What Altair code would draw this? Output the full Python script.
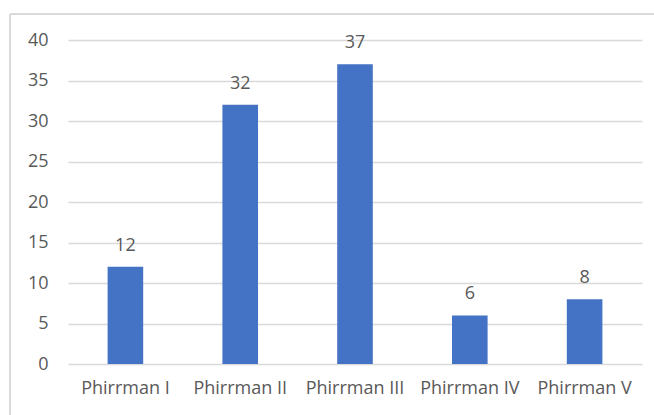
import altair as alt
import pandas as pd

categories = ["Phirrman I", "Phirrman II", "Phirrman III", "Phirrman IV", "Phirrman V"]
values = [12, 32, 37, 6, 8]
y_ticks = [0, 5, 10, 15, 20, 25, 30, 35, 40]

df = pd.DataFrame({"category": categories, "value": values})

FONT = "Open Sans"
GREY = "#595959"

x_enc = alt.X("category:N", sort=categories, title=None,
              scale=alt.Scale(paddingInner=0.69, paddingOuter=0.345),
              axis=alt.Axis(labelAngle=0, labelFont=FONT, labelFontSize=18,
                            labelColor=GREY, labelPadding=15, ticks=False,
                            domain=False, grid=False, zindex=1))
y_enc = alt.Y("value:Q", title=None,
              scale=alt.Scale(domain=[0, 40], nice=False),
              axis=alt.Axis(values=y_ticks, labelFont=FONT, labelFontSize=18,
                            labelColor=GREY, labelPadding=20, ticks=False,
                            domain=False, grid=True, gridColor="#D9D9D9",
                            gridWidth=1.5, zindex=0))

border_left = alt.Chart(df).mark_rule(color="#D9D9D9", strokeWidth=2).encode(
    x=alt.value(-58), y=alt.value(-26), y2=alt.value(420)
)
border_top = alt.Chart(df).mark_rule(color="#D9D9D9", strokeWidth=2).encode(
    y=alt.value(-26), x=alt.value(-58), x2=alt.value(620)
)

bars = alt.Chart(df).mark_bar(color="#4472C4").encode(x=x_enc, y=y_enc)

labels = alt.Chart(df).mark_text(dy=-21, font=FONT, fontSize=18, color=GREY).encode(
    x=alt.X("category:N", sort=categories),
    y=alt.Y("value:Q"),
    text=alt.Text("value:Q"),
)

chart = alt.layer(bars, labels, border_left, border_top).properties(
    width=574, height=324,
    background="white",
    autosize=alt.AutoSizeParams(type="none"),
    padding={"left": 68, "top": 40, "right": 12, "bottom": 51},
).configure_view(strokeWidth=0)

chart.save("out.html", embed_options={"renderer": "svg", "actions": False})
